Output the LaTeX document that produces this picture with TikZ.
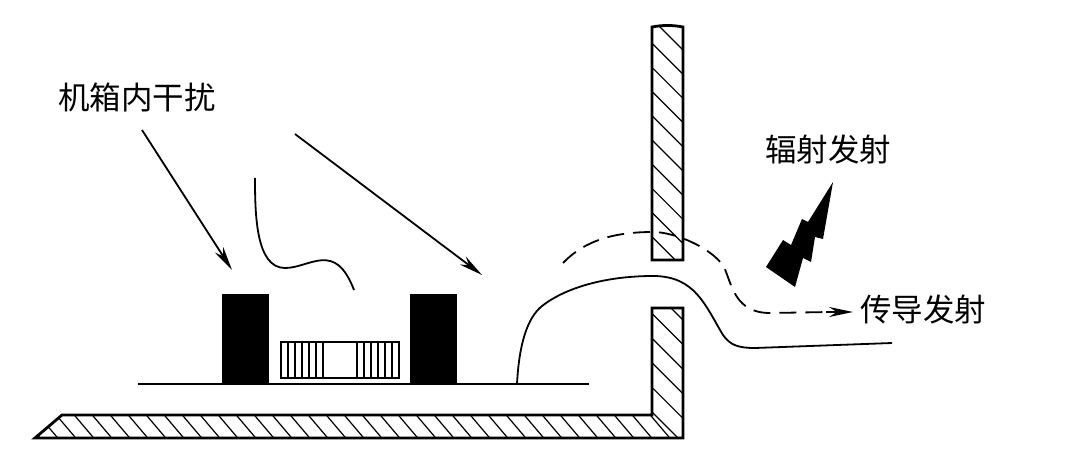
\documentclass[tikz,border=0pt]{standalone}
\usepackage{fontspec}
\setmainfont{Noto Sans CJK SC}
\usetikzlibrary{arrows.meta}
\usetikzlibrary{calc}
\begin{document}
\begin{tikzpicture}[x=1pt, y=-1pt, >={Stealth[length=24pt, width=10pt]},
wall/.style={line width=2.8pt, line join=miter},
hatch/.style={line width=1.2pt},
block/.style={fill=black, draw=none, inner sep=0pt},
wire/.style={line width=1.8pt},
label/.style={inner sep=0pt, font=\fontsize{31.5}{32}\selectfont}]
\useasboundingbox (0,0) rectangle (1075,473);

% upper wall
\begin{scope}
\clip (652,27) -- (683,27) -- (683,260) -- (652,260) -- cycle;
\foreach \i in {0,1,...,9}{
\draw[hatch] (652,\i*24.2+19) -- ++(31,31);
}
\end{scope}
\draw[wall] (652,27) .. controls (662,25) and (673,25) .. (683,27) -- (683,260) -- (652,260) -- cycle;

% floor and lower wall
\begin{scope}
\clip (35,438) -- (62,415) -- (652,415) -- (652,308) -- (683,308) -- (683,438) -- cycle;
\foreach \i in {0,1,...,35}{
\draw[hatch] (\i*18+16,410) -- ++(28,33);
}
\foreach \i in {0,1,...,5}{
\draw[hatch] (652,\i*24.6+289) -- ++(31,31);
}
\end{scope}
\draw[wall] (35,438) -- (62,415) -- (652,415) -- (652,308) -- (683,308) -- (683,438) -- cycle;

% board
\draw[line width=2.6pt] (138,384) -- (589,384);
\node[block, minimum width=47pt, minimum height=91pt](block1) at (245.5,339){};
\node[block, minimum width=47pt, minimum height=91pt](block2) at (433.5,339){};
\draw[line width=2.4pt] (281,342) rectangle (399,378);
\foreach \i in {0,1,...,6}{
\draw[line width=2.4pt] (281+\i*7,342) -- (281+\i*7,378);
\draw[line width=2.4pt] (357+\i*7,342) -- (357+\i*7,378);
}

% labels
\node[label](inside) at (137,97){机箱内干扰};
\node[label](radiated) at (828,150){辐射发射};
\node[label](conducted) at (923,310){传导发射};

% arrows
\coordinate(a1) at (142,130);
\coordinate(b1) at (232,270);
\coordinate(a2) at (295,134);
\coordinate(b2) at (482,275);
\draw[->, wire] (a1) -- (b1);
\draw[->, wire] (a2) -- (b2);

% coupling paths
\draw[wire] (255,178) .. controls (255,215) and (256,268) .. (285,268) .. controls (310,268) and (335,240) .. (354,290);
\draw[wire] (517,384) .. controls (519,345) and (527,318) .. (542,306) .. controls (565,288) and (605,276) .. (653,276) .. controls (695,276) and (705,305) .. (723,335) .. controls (730,345) and (738,348) .. (755,348) -- (892,343);
\draw[wire, dashed, dash pattern=on 17pt off 9pt] (563,263) .. controls (585,240) and (615,232) .. (653,232) .. controls (675,232) and (712,248) .. (724,267) .. controls (732,285) and (735,313) .. (770,313) -- (830,312);
\draw[->, wire] (826,312) -- (853,312);

% bolt
\fill (833,182) -- (823,239) -- (815,237) -- (811,262) -- (803,258) -- (795,287) -- (766,267) -- (783,240) -- (791,245) -- (802,219) -- (808,222) -- cycle;
\end{tikzpicture}
\end{document}
